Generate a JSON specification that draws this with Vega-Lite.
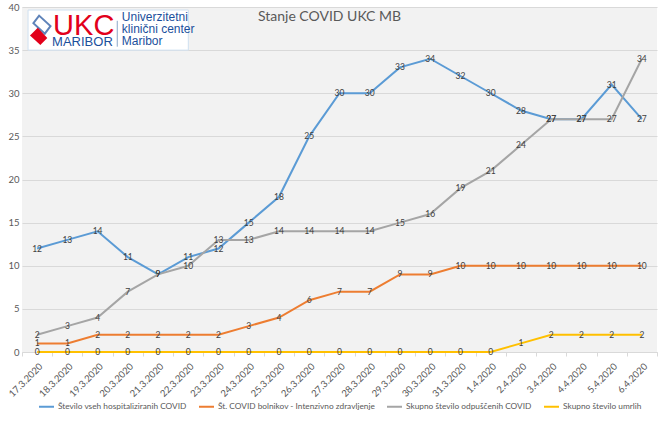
{
  "$schema": "https://vega.github.io/schema/vega-lite/v6.json",
  "width": 635,
  "height": 345,
  "autosize": {"type": "none"},
  "padding": {"left": 22, "top": 7, "right": 3, "bottom": 71},
  "background": "white",
  "title": {"text": "Stanje COVID UKC MB", "fontSize": 14, "font": "Lato", "fontWeight": "normal", "color": "#595959", "offset": -22, "anchor": "middle", "dx": -10},
  "config": {
    "view": {"fill": "#f2f2f2", "stroke": null},
    "legend": {"labelFont": "Lato", "labelFontSize": 8.3, "labelColor": "#595959", "labelLimit": 0}
  },
  "data": {
    "values": [
      {"date": "17.3.2020", "h": 12, "i": 1, "o": 2, "u": 0},
      {"date": "18.3.2020", "h": 13, "i": 1, "o": 3, "u": 0},
      {"date": "19.3.2020", "h": 14, "i": 2, "o": 4, "u": 0},
      {"date": "20.3.2020", "h": 11, "i": 2, "o": 7, "u": 0},
      {"date": "21.3.2020", "h": 9, "i": 2, "o": 9, "u": 0},
      {"date": "22.3.2020", "h": 11, "i": 2, "o": 10, "u": 0},
      {"date": "23.3.2020", "h": 12, "i": 2, "o": 13, "u": 0},
      {"date": "24.3.2020", "h": 15, "i": 3, "o": 13, "u": 0},
      {"date": "25.3.2020", "h": 18, "i": 4, "o": 14, "u": 0},
      {"date": "26.3.2020", "h": 25, "i": 6, "o": 14, "u": 0},
      {"date": "27.3.2020", "h": 30, "i": 7, "o": 14, "u": 0},
      {"date": "28.3.2020", "h": 30, "i": 7, "o": 14, "u": 0},
      {"date": "29.3.2020", "h": 33, "i": 9, "o": 15, "u": 0},
      {"date": "30.3.2020", "h": 34, "i": 9, "o": 16, "u": 0},
      {"date": "31.3.2020", "h": 32, "i": 10, "o": 19, "u": 0},
      {"date": "1.4.2020", "h": 30, "i": 10, "o": 21, "u": 0},
      {"date": "2.4.2020", "h": 28, "i": 10, "o": 24, "u": 1},
      {"date": "3.4.2020", "h": 27, "i": 10, "o": 27, "u": 2},
      {"date": "4.4.2020", "h": 27, "i": 10, "o": 27, "u": 2},
      {"date": "5.4.2020", "h": 31, "i": 10, "o": 27, "u": 2},
      {"date": "6.4.2020", "h": 27, "i": 10, "o": 34, "u": 2}
    ]
  },
  "layer": [
    {
      "transform": [{"fold": ["h", "i", "o", "u"], "as": ["s", "v"]}],
      "mark": {"type": "line", "strokeWidth": 2},
      "encoding": {
        "x": {
          "field": "date", "type": "ordinal", "sort": null,
          "scale": {"type": "band", "paddingInner": 0, "paddingOuter": 0},
          "axis": {"title": null, "labelAngle": -45, "labelAlign": "right", "labelBaseline": "top", "tickBand": "extent", "tickSize": 4, "tickColor": "#d9d9d9", "domainColor": "#d9d9d9", "labelColor": "#595959", "labelFontSize": 9.5, "labelFont": "Lato", "labelPadding": 5, "grid": false}
        },
        "y": {
          "field": "v", "type": "quantitative",
          "scale": {"domain": [0, 40]},
          "axis": {"title": null, "values": [0, 5, 10, 15, 20, 25, 30, 35, 40], "domain": false, "ticks": false, "gridColor": "#d9d9d9", "labelColor": "#595959", "labelFontSize": 9.5, "labelFont": "Lato", "labelPadding": 3}
        },
        "color": {
          "field": "s", "type": "nominal",
          "scale": {"domain": ["h", "i", "o", "u"], "range": ["#5B9BD5", "#ED7D31", "#A5A5A5", "#FFC000"]},
          "legend": {
            "title": null, "orient": "none", "legendX": 16, "legendY": 391, "direction": "horizontal", "columns": 4,
            "symbolType": "stroke", "symbolSize": 225, "symbolStrokeWidth": 2, "labelOffset": 3, "columnPadding": 8,
            "labelExpr": "datum.label == 'h' ? 'Število vseh hospitaliziranih COVID' : datum.label == 'i' ? 'Št. COVID bolnikov - Intenzivno zdravljenje' : datum.label == 'o' ? 'Skupno število odpuščenih COVID' : 'Skupno število umrlih'"
          }
        }
      }
    },
    {
      "transform": [{"fold": ["h", "i", "o", "u"], "as": ["s", "v"]}],
      "mark": {"type": "text", "fontSize": 8.5, "font": "Lato", "color": "#404040"},
      "encoding": {
        "x": {"field": "date", "type": "ordinal", "sort": null},
        "y": {"field": "v", "type": "quantitative"},
        "text": {"field": "v", "type": "quantitative"}
      }
    },
    {
      "data": {"values": [{}]},
      "mark": {"type": "rect", "fill": "white", "stroke": "#cfe0f0", "strokeWidth": 1},
      "encoding": {
        "x": {"datum": "17.3.2020", "bandPosition": 0.2},
        "x2": {"datum": "22.3.2020"},
        "y": {"datum": 39.65},
        "y2": {"datum": 35.0}
      }
    },
    {
      "data": {"values": [{}]},
      "mark": {"type": "point", "shape": "M-0.3,-1 L0.9,0.1 L0.3,0.9 L-0.9,-0.2 Z", "filled": false, "stroke": "#1b4f9c", "strokeWidth": 2, "size": 360},
      "encoding": {"x": {"datum": "17.3.2020", "bandPosition": 0.66}, "y": {"datum": 37.9}}
    },
    {
      "data": {"values": [{}]},
      "mark": {"type": "point", "shape": "M-0.1,-1 L1,0.2 L0.2,1 L-1,-0.1 Z", "filled": true, "fill": "#e2001a", "opacity": 1, "size": 300},
      "encoding": {"x": {"datum": "17.3.2020", "bandPosition": 0.55}, "y": {"datum": 36.6}}
    },
    {
      "data": {"values": [{}]},
      "mark": {"type": "text", "text": "UKC", "font": "Liberation Sans", "fontSize": 29, "color": "#e2001a", "align": "left", "baseline": "alphabetic", "dx": 16},
      "encoding": {"x": {"datum": "17.3.2020"}, "y": {"datum": 36.75}}
    },
    {
      "data": {"values": [{}]},
      "mark": {"type": "text", "text": "MARIBOR", "font": "Liberation Sans", "fontSize": 13, "color": "#1b4f9c", "align": "left", "baseline": "alphabetic", "dx": 15},
      "encoding": {"x": {"datum": "17.3.2020"}, "y": {"datum": 35.48}}
    },
    {
      "data": {"values": [{}]},
      "mark": {"type": "rule", "color": "#8aa6c8", "strokeWidth": 1},
      "encoding": {"x": {"datum": "20.3.2020", "bandPosition": 0.15}, "y": {"datum": 35.4}, "y2": {"datum": 38.4}}
    },
    {
      "data": {"values": [{}]},
      "mark": {"type": "text", "text": ["Univerzitetni", "klinični center", "Maribor"], "lineHeight": 12, "font": "Liberation Sans", "fontSize": 12, "color": "#1b4f9c", "align": "left", "baseline": "alphabetic", "dx": -6},
      "encoding": {"x": {"datum": "20.3.2020"}, "y": {"datum": 38.38}}
    }
  ]
}
